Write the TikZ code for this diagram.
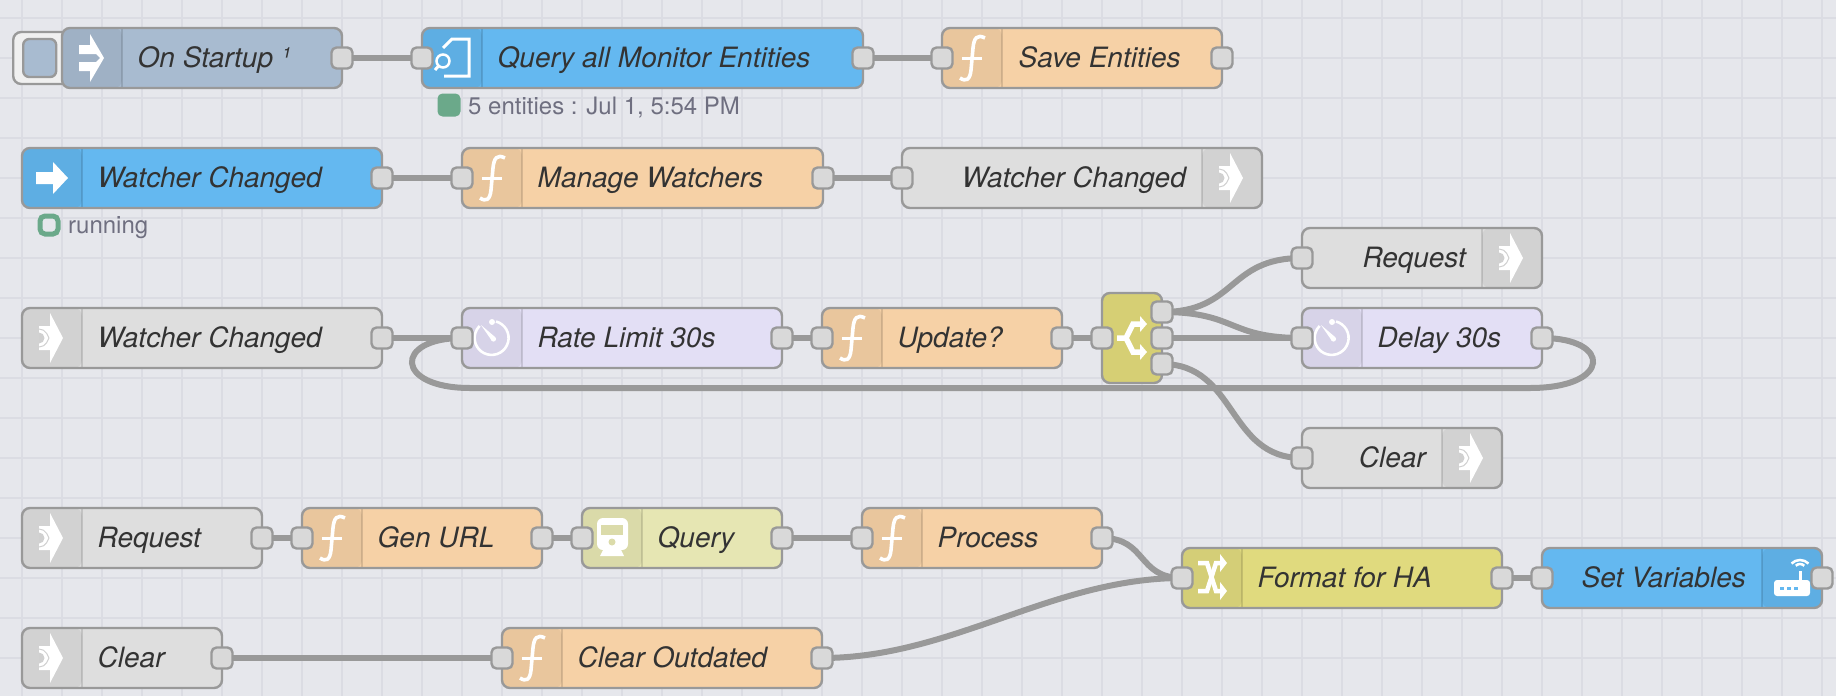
\documentclass[tikz,border=0pt]{standalone}
\usepackage{fontspec}
\setmainfont{TeX Gyre Heros}
\usepackage{tikz}
\usetikzlibrary{backgrounds, calc}
\usepackage{xcolor}
\definecolor{Canvas}{HTML}{E6E7EC}
\definecolor{GridLine}{HTML}{DBDCE3}
\definecolor{Wire}{HTML}{999999}
\definecolor{PortFill}{HTML}{D9D9D9}
\definecolor{InjectFill}{HTML}{A8BBD0}
\definecolor{ApiFill}{HTML}{64B8F0}
\definecolor{FuncFill}{HTML}{F6D1A6}
\definecolor{LinkFill}{HTML}{DEDEDE}
\definecolor{LinkStrip}{HTML}{D0D0D0}
\definecolor{DelayFill}{HTML}{E3DFF5}
\definecolor{SwitchFill}{HTML}{D6CF74}
\definecolor{ChangeFill}{HTML}{E0DA7E}
\definecolor{HttpFill}{HTML}{E6E6B3}
\definecolor{HttpStrip}{HTML}{DBDBAA}
\definecolor{LabelText}{HTML}{333333}
\definecolor{StatusText}{HTML}{6F6F80}
\definecolor{StatusGreen}{HTML}{6BA98A}

\tikzset{
  glyph/.style={fill=white, draw=none},
  stroke/.style={draw=white, fill=none},
  funcicon/.pic={
    \draw[stroke, line width=3.6] (13,-20) .. controls (5,-24) and (2,-20) .. (1,-10) -- (-1,12) .. controls (-2,22) and (-6,24) .. (-12,20);
    \draw[stroke, line width=3] (-10,0) -- (10,0);
  },
  linkicon/.pic={
    \fill[glyph] (-13,-12) -- (-2,-12) -- (-2,-25) -- (11,0) -- (-2,25) -- (-2,12) -- (-13,12) -- cycle;
    \fill[LinkStrip] (-13,-5.5) arc[start angle=-90, end angle=90, radius=5.5] -- cycle;
    \draw[LinkStrip, line width=1] (-13,-9) arc[start angle=-90, end angle=-30, radius=9] -- (-3,0);
    \draw[LinkStrip, line width=1] (-13,9) arc[start angle=90, end angle=30, radius=9] -- (-3,0);
  },
  injecticon/.pic={
    \fill[glyph] (-2,-24) -- (12,0) -- (-2,24) -- (-2,13) -- (-13,13) -- (-13,4) -- (4,4) -- (8,0) -- (4,-4) -- (-13,-4) -- (-13,-13) -- (-2,-13) -- cycle;
  },
  arrowicon/.pic={
    \fill[glyph] (-16,-6) -- (1,-6) -- (1,-16) -- (16,0) -- (1,16) -- (1,6) -- (-16,6) -- cycle;
  },
  docicon/.pic={
    \draw[stroke, line width=3] (-9,-10) -- (0,-19) -- (17,-19) -- (17,18) -- (-8,18);
    \draw[stroke, line width=2.5] (-9,3) circle[radius=6.5];
    \draw[stroke, line width=3] (-13.5,8) -- (-17,12);
  },
  timericon/.pic={
    \draw[stroke, line width=2.6] (4,-16.5) arc[start angle=-75, end angle=225, radius=17];
    \fill[glyph] (0,-16) circle[radius=3];
    \fill[glyph] (-11,-13) -- (3,-1) -- (0,3) -- cycle;
    \fill[glyph] (1.5,1) circle[radius=2.6];
  },
  switchicon/.pic={
    \draw[stroke, line width=5.5] (-15,0) -- (-6,0) -- (1,-14) -- (9,-14);
    \draw[stroke, line width=5.5] (-6,0) -- (1,14) -- (9,14);
    \fill[glyph] (8,-22) -- (15,-14) -- (8,-6) -- cycle;
    \fill[glyph] (8,6) -- (15,14) -- (8,22) -- cycle;
  },
  shuffleicon/.pic={
    \draw[stroke, line width=4.5] (-14,-14) -- (-5,-14) -- (4,14) -- (9,14);
    \draw[stroke, line width=4.5] (-14,14) -- (-5,14) -- (4,-14) -- (9,-14);
    \fill[glyph] (8,-23) -- (15,-14) -- (8,-5) -- cycle;
    \fill[glyph] (8,5) -- (15,14) -- (8,23) -- cycle;
  },
  trainicon/.pic={
    \fill[glyph, rounded corners=6] (-15,-20) rectangle (16,12);
    \fill[HttpStrip] (-11,-13) rectangle (11,-3);
    \fill[HttpStrip] (0,4) circle[radius=3.5];
    \fill[glyph] (-9,12) -- (9,12) -- (12,18) -- (-12,18) -- cycle;
  },
  routericon/.pic={
    \fill[glyph, rounded corners=3] (-18,2) rectangle (18,18);
    \draw[stroke, line width=3] (8,2) -- (8,-7);
    \draw[stroke, line width=2.5] (8,-8) ++(-45:6) arc[start angle=-45, end angle=-135, radius=6];
    \draw[stroke, line width=2.5] (8,-6) ++(-45:12) arc[start angle=-45, end angle=-135, radius=12];
    \foreach \dx in {-12,-5,2} \fill[ApiFill] (\dx,8.5) rectangle ++(3.5,3.5);
  }
}

\begin{document}
\begin{tikzpicture}[
    x=1pt, y=-1pt,
    gridline/.style={draw=GridLine, line width=2.4},
    wire/.style={draw=Wire, line width=6},
    body/.style={rectangle, draw=Wire, line width=2.4, rounded corners=8, minimum height=60, inner sep=0, outer sep=0, anchor=west},
    leftstrip/.style={path picture={
        \fill[black, opacity=.05] (path picture bounding box.north west) rectangle ++(60,60);
        \draw[black, opacity=.12, line width=1.6] ($(path picture bounding box.north west)+(60,0)$) -- ++(0,60);}},
    rightstrip/.style={path picture={
        \fill[black, opacity=.05] (path picture bounding box.north east) rectangle ++(-60,60);
        \draw[black, opacity=.12, line width=1.6] ($(path picture bounding box.north east)+(-60,0)$) -- ++(0,60);}},
    port/.style={rectangle, draw=Wire, fill=PortFill, line width=2.4, rounded corners=5, minimum size=21, inner sep=0, outer sep=0},
    lbl/.style={font=\fontsize{28}{28}\selectfont\itshape, text=LabelText, anchor=base west, inner sep=0, yshift=1},
    lblr/.style={lbl, anchor=base east},
    status/.style={font=\fontsize{24}{24}\selectfont, text=StatusText, anchor=base west, inner sep=0},
    statusdot/.style={rectangle, rounded corners=5, minimum size=23, inner sep=0, outer sep=0}
]
\useasboundingbox (0,0) rectangle (1836,696);

% Canvas
\begin{scope}[on background layer]
\fill[Canvas] (0,0) rectangle (1836,696);
\foreach \gx in {0,...,45} \draw[gridline] (21.7+40*\gx,0) -- (21.7+40*\gx,696);
\foreach \gy in {0,...,16} \draw[gridline] (0,17.7+40*\gy) -- (1836,17.7+40*\gy);
\end{scope}

% Row 1
\node[rectangle, draw=Wire, fill=white!94!black, line width=2.4, rounded corners=8, minimum width=62, minimum height=52, anchor=west] (startbtn) at (12,58) {};
\node[rectangle, draw=Wire, fill=InjectFill, line width=2.4, rounded corners=6, minimum width=33, minimum height=38, anchor=west] (startface) at (22,58) {};
\node[body, leftstrip, fill=InjectFill, minimum width=280] (startup) at (62,58) {};
\node[body, leftstrip, fill=ApiFill, minimum width=441] (query) at (422,58) {};
\node[body, leftstrip, fill=FuncFill, minimum width=280] (save) at (942,58) {};
\pic at (92,58) {injecticon};
\pic at (452,58) {docicon};
\pic at (972,58) {funcicon};
\node[lbl] (startuptext) at (137.5,68) {On Startup ¹};
\node[lbl] (querytext) at (497.5,68) {Query all Monitor Entities};
\node[lbl] (savetext) at (1018.5,68) {Save Entities};
\node[statusdot, fill=StatusGreen] (querydot) at (449,105) {};
\node[status] (querystatus) at (468,114) {5 entities : Jul 1, 5:54 PM};

% Row 2
\node[body, leftstrip, fill=ApiFill, minimum width=360] (watcher) at (22,178) {};
\node[body, leftstrip, fill=FuncFill, minimum width=361] (manage) at (462,178) {};
\node[body, rightstrip, fill=LinkFill, minimum width=360] (watcherout) at (902,178) {};
\pic at (52,178) {arrowicon};
\pic at (492,178) {funcicon};
\pic at (1232,178) {linkicon};
\node[lbl] (watchertext) at (97.5,188) {Watcher Changed};
\node[lbl] (managetext) at (537.5,188) {Manage Watchers};
\node[lblr] (watcherouttext) at (1186,188) {Watcher Changed};
\node[statusdot, draw=StatusGreen, line width=5, fill=Canvas, minimum size=18] (watcherdot) at (49,225) {};
\node[status] (watcherstatus) at (68,233) {running};

% Row 3
\node[body, leftstrip, fill=LinkFill, minimum width=360] (watcherin) at (22,338) {};
\node[body, leftstrip, fill=DelayFill, minimum width=320] (rate) at (462,338) {};
\node[body, leftstrip, fill=FuncFill, minimum width=240] (update) at (822,338) {};
\node[body, fill=SwitchFill, minimum width=60, minimum height=90] (branch) at (1102,338) {};
\node[body, rightstrip, fill=LinkFill, minimum width=240] (reqout) at (1302,258) {};
\node[body, leftstrip, fill=DelayFill, minimum width=240] (delay) at (1302,338) {};
\node[body, rightstrip, fill=LinkFill, minimum width=200] (clearout) at (1302,458) {};
\pic at (52,338) {linkicon};
\pic at (492,338) {timericon};
\pic at (852,338) {funcicon};
\pic at (1132,338) {switchicon};
\pic at (1512,258) {linkicon};
\pic at (1332,338) {timericon};
\pic at (1472,458) {linkicon};
\node[lbl] (watcherintext) at (97.5,348) {Watcher Changed};
\node[lbl] (ratetext) at (537.5,348) {Rate Limit 30s};
\node[lbl] (updatetext) at (897.5,348) {Update?};
\node[lblr] (reqouttext) at (1466,268) {Request};
\node[lbl] (delaytext) at (1377.5,348) {Delay 30s};
\node[lblr] (clearouttext) at (1426,468) {Clear};

% Row 4
\node[body, leftstrip, fill=LinkFill, minimum width=240] (reqin) at (22,538) {};
\node[body, leftstrip, fill=FuncFill, minimum width=240] (genurl) at (302,538) {};
\node[body, leftstrip, fill=HttpFill, minimum width=200] (httpq) at (582,538) {};
\node[body, leftstrip, fill=FuncFill, minimum width=240] (process) at (862,538) {};
\pic at (52,538) {linkicon};
\pic at (332,538) {funcicon};
\pic at (612,538) {trainicon};
\pic at (892,538) {funcicon};
\node[lbl] (reqintext) at (97.5,548) {Request};
\node[lbl] (genurltext) at (377.5,548) {Gen URL};
\node[lbl] (httpqtext) at (657.5,548) {Query};
\node[lbl] (processtext) at (937.5,548) {Process};

% Row 5
\node[body, leftstrip, fill=LinkFill, minimum width=200] (clearin) at (22,658) {};
\node[body, leftstrip, fill=FuncFill, minimum width=320] (outdated) at (502,658) {};
\node[body, leftstrip, fill=ChangeFill, minimum width=320] (format) at (1182,578) {};
\node[body, rightstrip, fill=ApiFill, minimum width=280] (setvars) at (1542,578) {};
\pic at (52,658) {linkicon};
\pic at (532,658) {funcicon};
\pic at (1212,577) {shuffleicon};
\pic at (1792,578) {routericon};
\node[lbl] (clearintext) at (97.5,668) {Clear};
\node[lbl] (outdatedtext) at (577.5,668) {Clear Outdated};
\node[lbl] (formattext) at (1257.5,588) {Format for HA};
\node[lblr] (setvarstext) at (1746,588) {Set Variables};

% Ports
\foreach \n in {query,save,manage,watcherout,rate,update,branch,reqout,delay,clearout,genurl,httpq,process,format,setvars,outdated}
  \node[port] (\n-in) at (\n.west) {};
\foreach \n in {startup,query,save,watcher,manage,watcherin,rate,update,delay,reqin,genurl,httpq,process,format,setvars,clearin,outdated}
  \node[port] (\n-out) at (\n.east) {};
\node[port] (branch-a) at (1162,312) {};
\node[port] (branch-b) at (1162,338) {};
\node[port] (branch-c) at (1162,364) {};

% Wires
\begin{scope}[on background layer]
\draw[wire] (startup-out) -- (query-in);
\draw[wire] (query-out) -- (save-in);
\draw[wire] (watcher-out) -- (manage-in);
\draw[wire] (manage-out) -- (watcherout-in);
\draw[wire] (watcherin-out) -- (rate-in);
\draw[wire] (rate-out) -- (update-in);
\draw[wire] (update-out) -- (branch-in);
\draw[wire] (branch-b) -- (delay-in);
\draw[wire] (branch-a.center) .. controls +(75,0) and +(-75,0) .. (reqout-in.center);
\draw[wire] (branch-a.center) .. controls +(75,0) and +(-75,0) .. (delay-in.center);
\draw[wire] (branch-c.center) .. controls +(75,0) and +(-75,0) .. (clearout-in.center);
\draw[wire] (delay-out.center) .. controls +(70,0) and (1612,388) .. (1530,388) -- (470,388) .. controls (394,388) and (394,338) .. (rate-in.center);
\draw[wire] (reqin-out) -- (genurl-in);
\draw[wire] (genurl-out) -- (httpq-in);
\draw[wire] (httpq-out) -- (process-in);
\draw[wire] (process-out.center) .. controls +(45,0) and +(-45,0) .. (format-in.center);
\draw[wire] (clearin-out) -- (outdated-in);
\draw[wire] (outdated-out.center) .. controls +(130,0) and +(-130,0) .. (format-in.center);
\draw[wire] (format-out) -- (setvars-in);
\end{scope}

\end{tikzpicture}
\end{document}
